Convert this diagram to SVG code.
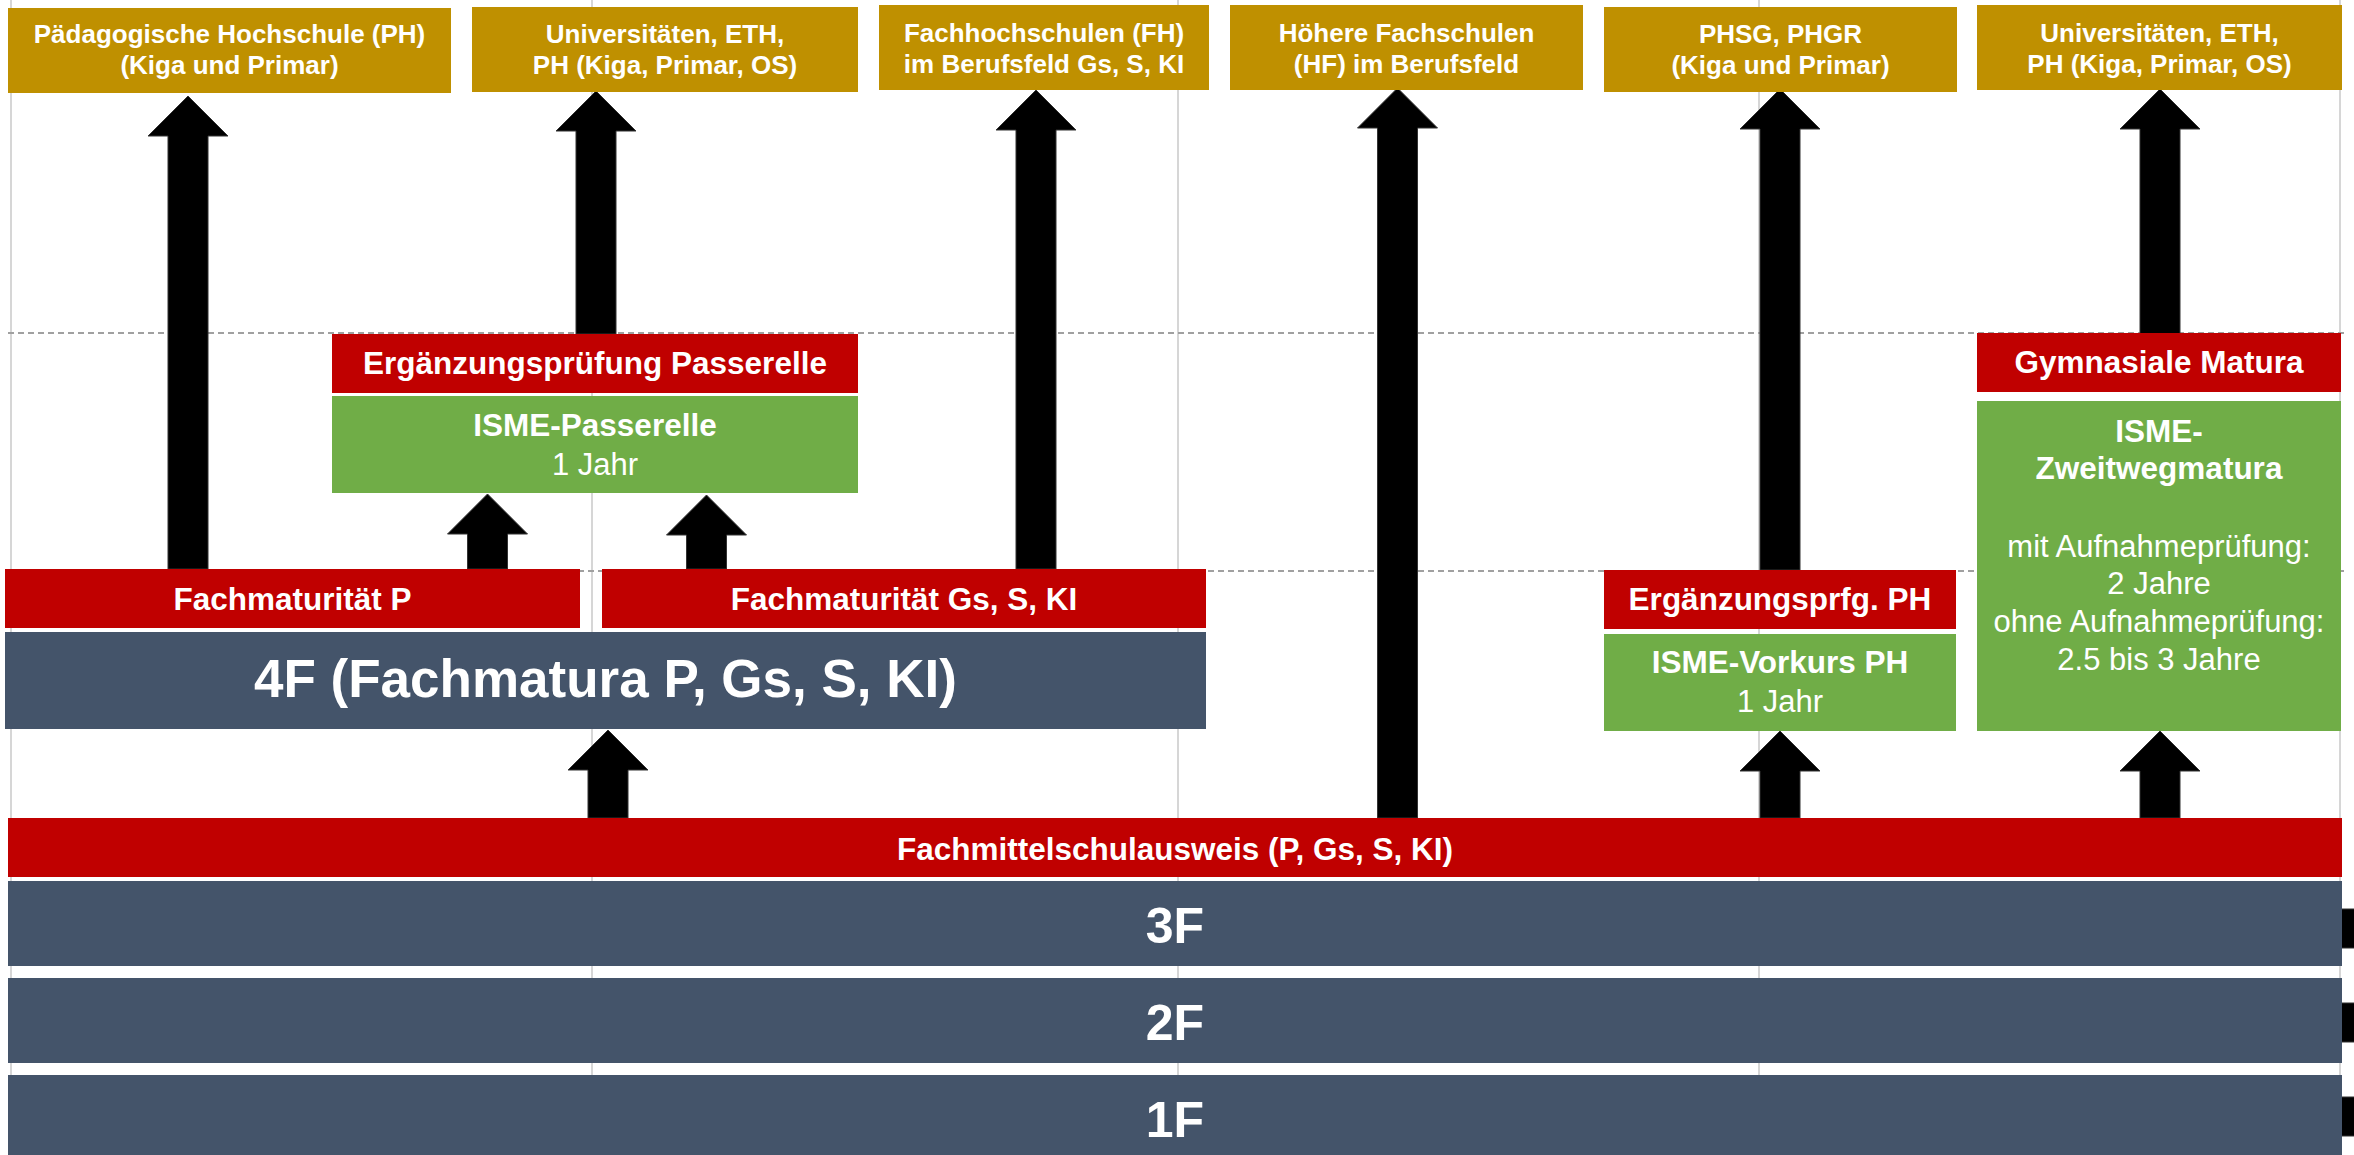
<svg xmlns="http://www.w3.org/2000/svg" width="2354" height="1155" viewBox="0 0 2354 1155">
<style>
.grid{stroke:#c8c8c8;stroke-width:1.5;fill:none}
.dash{stroke:#a0a0a0;stroke-width:2;stroke-dasharray:6,4;fill:none}
.gold{fill:#BF9000}
.red{fill:#C00000}
.green{fill:#70AD47}
.slate{fill:#44546A}
.arr{fill:#000;stroke:#333;stroke-width:1}
text{font-family:"Liberation Sans",Arial,sans-serif;fill:#fff;text-anchor:middle}
.tg{font-size:26px;font-weight:bold}
.tb{font-size:31.5px;font-weight:bold}
.tr{font-size:31px}
.tbig{font-size:50px;font-weight:bold}
.t4f{font-size:53px;font-weight:bold}
</style>
<rect width="2354" height="1155" fill="#fff"/>
<g id="grid">
<line class="grid" x1="11" y1="0" x2="11" y2="1155"/>
<line class="grid" x1="592" y1="0" x2="592" y2="1155"/>
<line class="grid" x1="1178" y1="0" x2="1178" y2="1155"/>
<line class="grid" x1="1759" y1="0" x2="1759" y2="1155"/>
<line class="grid" x1="2340" y1="0" x2="2340" y2="1155"/>
<line class="dash" x1="8" y1="333" x2="2345" y2="333"/>
<line class="dash" x1="8" y1="571" x2="2345" y2="571"/>
</g>
<g id="connectors">
<polygon class="arr" points="168,569 168,136 148,136 188,96 228,136 208,136 208,569"/>
<polygon class="arr" points="576,334 576,131 556,131 596,91 636,131 616,131 616,334"/>
<polygon class="arr" points="1016,569 1016,130 996,130 1036,90 1076,130 1056,130 1056,569"/>
<polygon class="arr" points="1377.5,818 1377.5,128 1357.5,128 1397.5,88 1437.5,128 1417.5,128 1417.5,818"/>
<polygon class="arr" points="1760,570 1760,129 1740,129 1780,89 1820,129 1800,129 1800,570"/>
<polygon class="arr" points="2140,334 2140,129 2120,129 2160,89 2200,129 2180,129 2180,334"/>
<polygon class="arr" points="467.5,569 467.5,534 447.5,534 487.5,494 527.5,534 507.5,534 507.5,569"/>
<polygon class="arr" points="686.5,569 686.5,535 666.5,535 706.5,495 746.5,535 726.5,535 726.5,569"/>
<polygon class="arr" points="588,818 588,770 568,770 608,730 648,770 628,770 628,818"/>
<polygon class="arr" points="1760,818 1760,771 1740,771 1780,731 1820,771 1800,771 1800,818"/>
<polygon class="arr" points="2140,818 2140,771 2120,771 2160,731 2200,771 2180,771 2180,818"/>
<rect class="arr" x="2341" y="909" width="20" height="39"/>
<rect class="arr" x="2341" y="1003" width="20" height="39"/>
<rect class="arr" x="2341" y="1097" width="20" height="39"/>
</g>
<g id="ph">
<rect class="gold" x="8" y="8" width="443" height="85"/>
<text class="tg" x="229.5" y="43">Pädagogische Hochschule (PH)</text>
<text class="tg" x="229.5" y="74">(Kiga und Primar)</text>
</g>
<g id="uni1">
<rect class="gold" x="472" y="7" width="386" height="85"/>
<text class="tg" x="665" y="43">Universitäten, ETH,</text>
<text class="tg" x="665" y="74">PH (Kiga, Primar, OS)</text>
</g>
<g id="fh">
<rect class="gold" x="879" y="5" width="330" height="85"/>
<text class="tg" x="1044" y="42">Fachhochschulen (FH)</text>
<text class="tg" x="1044" y="73">im Berufsfeld Gs, S, KI</text>
</g>
<g id="hf">
<rect class="gold" x="1230" y="5" width="353" height="85"/>
<text class="tg" x="1406.5" y="42">Höhere Fachschulen</text>
<text class="tg" x="1406.5" y="73">(HF) im Berufsfeld</text>
</g>
<g id="phsg">
<rect class="gold" x="1604" y="7" width="353" height="85"/>
<text class="tg" x="1780.5" y="43">PHSG, PHGR</text>
<text class="tg" x="1780.5" y="74">(Kiga und Primar)</text>
</g>
<g id="uni2">
<rect class="gold" x="1977" y="5" width="365" height="85"/>
<text class="tg" x="2159.5" y="42">Universitäten, ETH,</text>
<text class="tg" x="2159.5" y="73">PH (Kiga, Primar, OS)</text>
</g>
<g id="ergpass">
<rect class="red" x="332" y="334" width="526" height="59"/>
<text class="tb" x="595" y="374">Ergänzungsprüfung Passerelle</text>
</g>
<g id="ismepass">
<rect class="green" x="332" y="396" width="526" height="97"/>
<text class="tb" x="595" y="436">ISME-Passerelle</text>
<text class="tr" x="595" y="475">1 Jahr</text>
</g>
<g id="fmp">
<rect class="red" x="5" y="569" width="575" height="59"/>
<text class="tb" x="292.5" y="610">Fachmaturität P</text>
</g>
<g id="fmgs">
<rect class="red" x="602" y="569" width="604" height="59"/>
<text class="tb" x="904" y="610">Fachmaturität Gs, S, KI</text>
</g>
<g id="f4">
<rect class="slate" x="5" y="632" width="1201" height="97"/>
<text class="t4f" x="605.5" y="697">4F (Fachmatura P, Gs, S, KI)</text>
</g>
<g id="ergph">
<rect class="red" x="1604" y="570" width="352" height="59"/>
<text class="tb" x="1780" y="610">Ergänzungsprfg. PH</text>
</g>
<g id="vorkurs">
<rect class="green" x="1604" y="634" width="352" height="97"/>
<text class="tb" x="1780" y="673">ISME-Vorkurs PH</text>
<text class="tr" x="1780" y="712">1 Jahr</text>
</g>
<g id="gymmat">
<rect class="red" x="1977" y="333" width="364" height="59"/>
<text class="tb" x="2159" y="373">Gymnasiale Matura</text>
</g>
<g id="zweitweg">
<rect class="green" x="1977" y="401" width="364" height="330"/>
<text class="tb" x="2159" y="442">ISME-</text>
<text class="tb" x="2159" y="479">Zweitwegmatura</text>
<text class="tr" x="2159" y="557">mit Aufnahmeprüfung:</text>
<text class="tr" x="2159" y="594">2 Jahre</text>
<text class="tr" x="2159" y="632">ohne Aufnahmeprüfung:</text>
<text class="tr" x="2159" y="670">2.5 bis 3 Jahre</text>
</g>
<g id="fmsausweis">
<rect class="red" x="8" y="818" width="2334" height="59"/>
<text class="tb" x="1175" y="860">Fachmittelschulausweis (P, Gs, S, KI)</text>
</g>
<g id="f3">
<rect class="slate" x="8" y="881" width="2334" height="85"/>
<text class="tbig" x="1175" y="943">3F</text>
</g>
<g id="f2">
<rect class="slate" x="8" y="978" width="2334" height="85"/>
<text class="tbig" x="1175" y="1040">2F</text>
</g>
<g id="f1">
<rect class="slate" x="8" y="1075" width="2334" height="85"/>
<text class="tbig" x="1175" y="1137">1F</text>
</g>
</svg>
